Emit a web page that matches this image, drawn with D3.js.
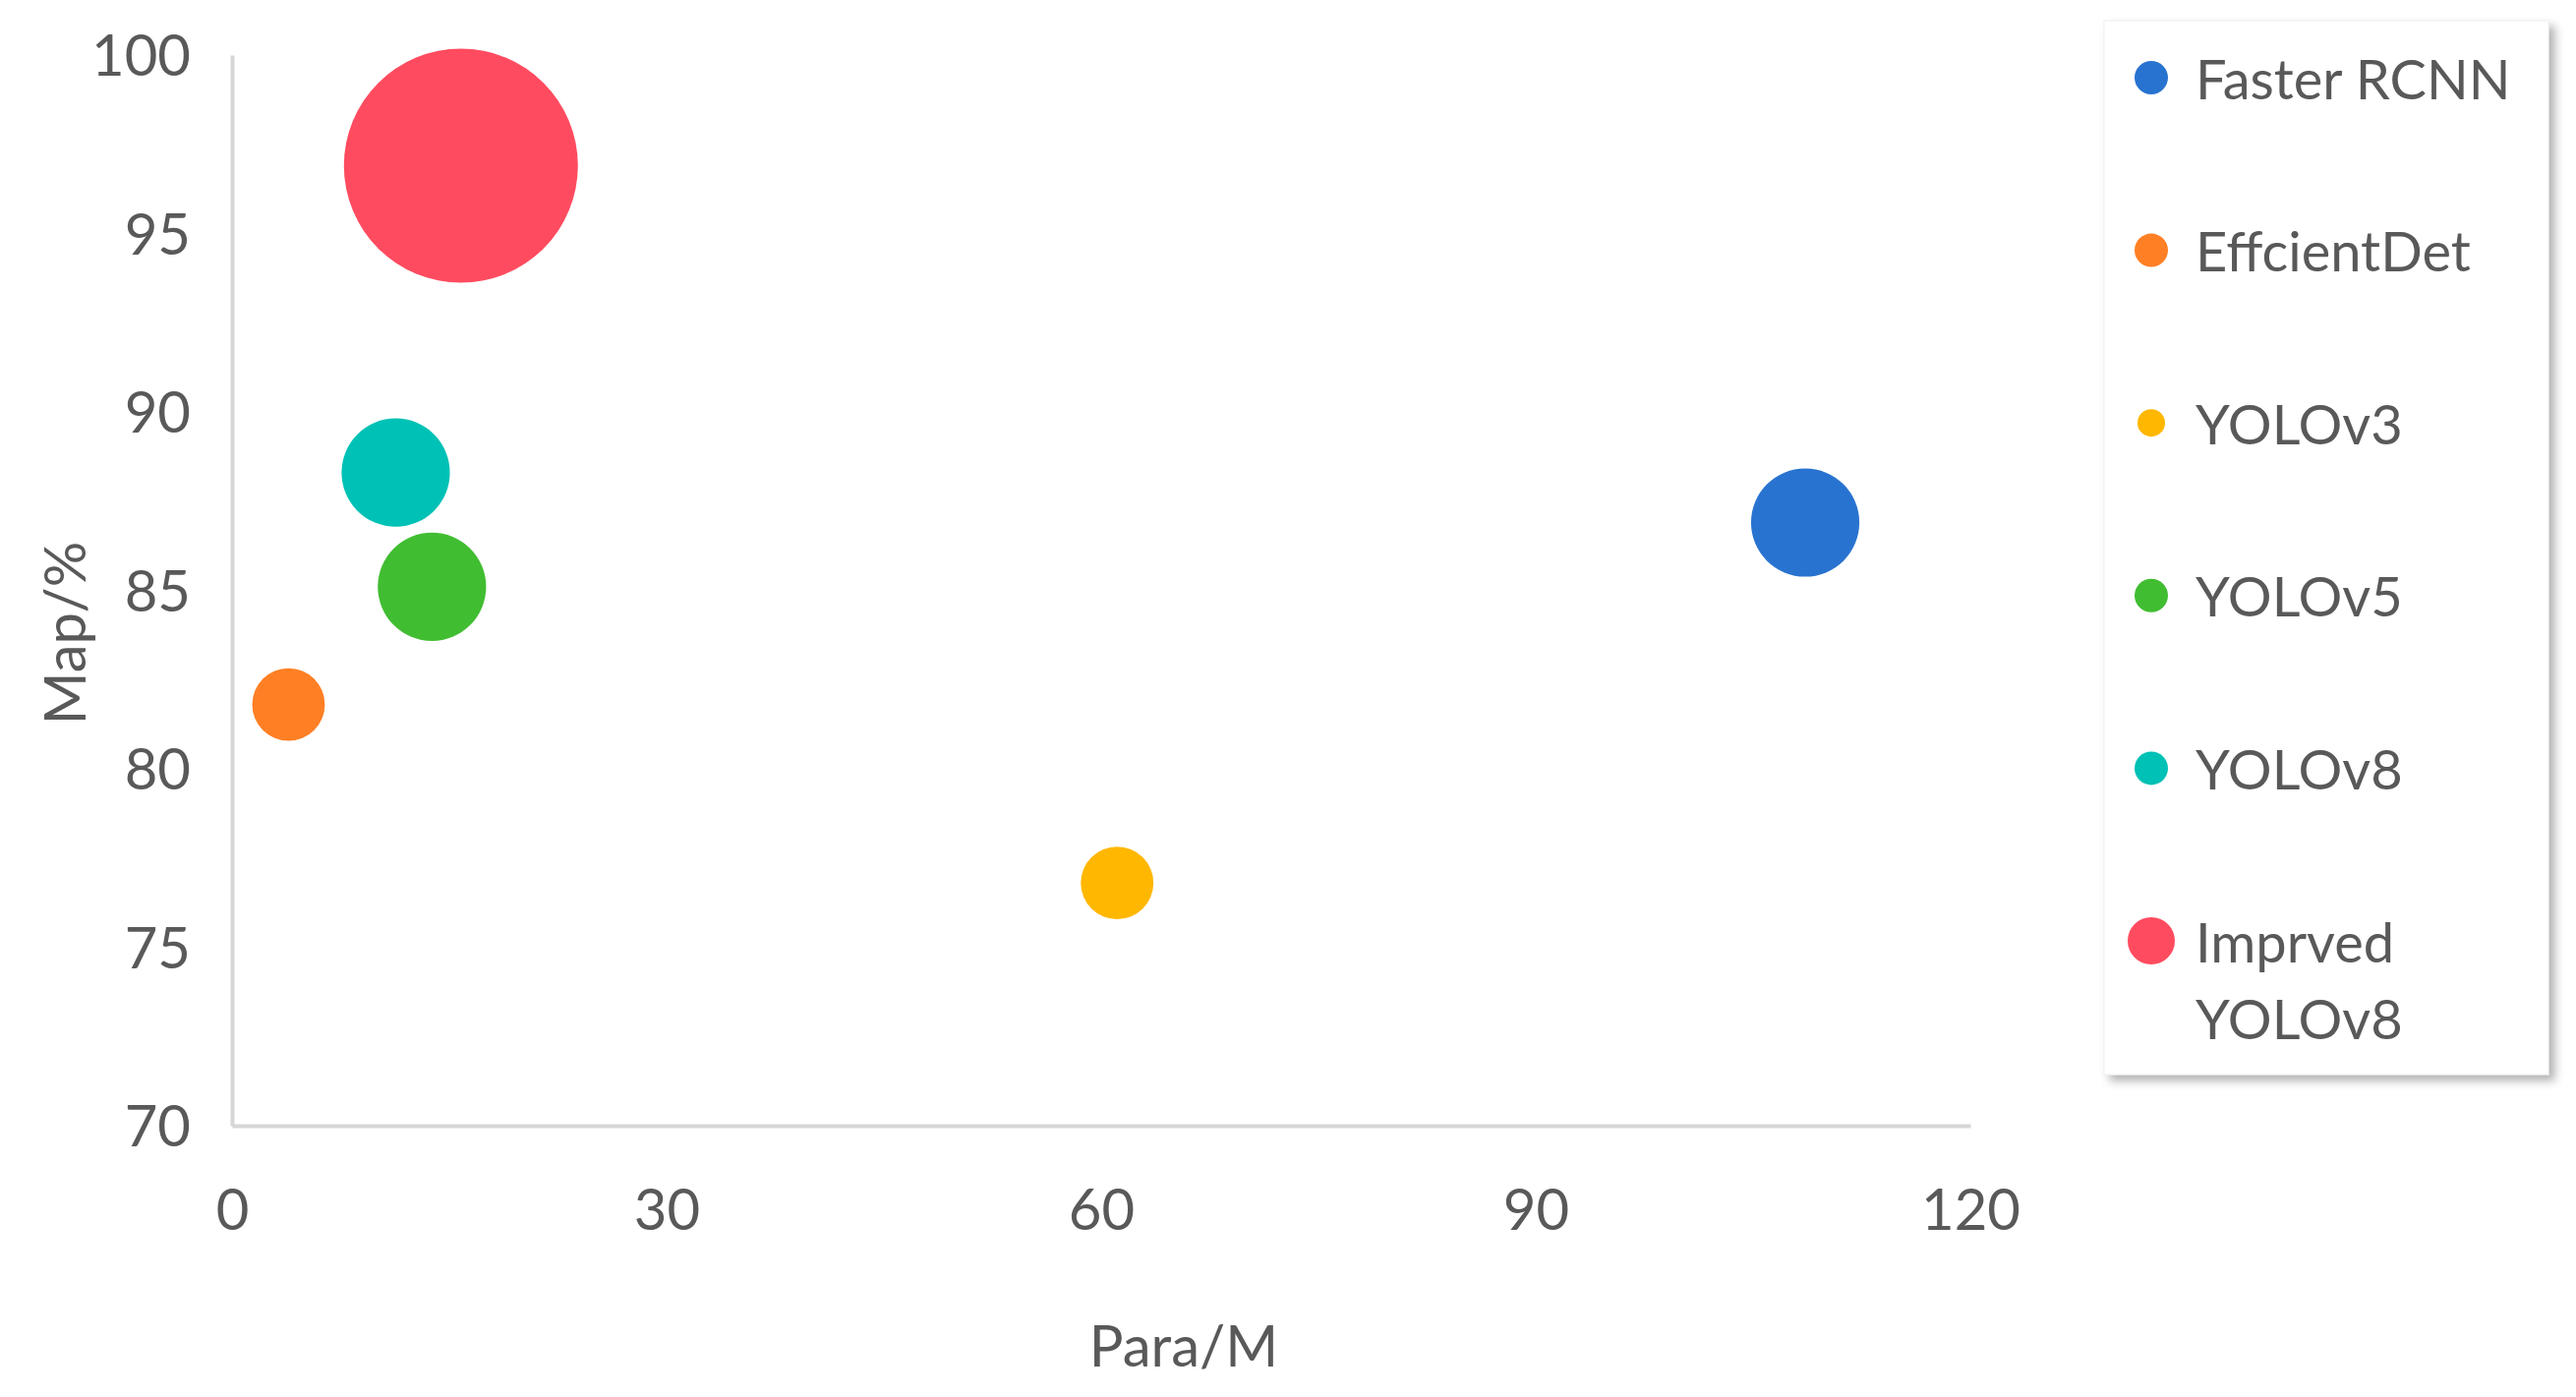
<!DOCTYPE html>
<html>
<head>
<meta charset="utf-8">
<script src="https://cdn.jsdelivr.net/npm/d3@7"></script>
<style>
  body { margin: 0; background: #fff; }
  svg text { font-family: Lato, "Open Sans", sans-serif; fill: #595959; }
</style>
</head>
<body>
<svg id="chart" width="2620" height="1421"></svg>
<script>
// Data
const models = ["Faster RCNN", "EffcientDet", "YOLOv3", "YOLOv5", "YOLOv8", "Imprved YOLOv8"];
const params = [108.6, 3.9, 61.1, 13.8, 11.3, 15.8];      // Para/M
const mapValues = [86.9, 81.8, 76.8, 85.1, 88.3, 96.9];   // Map/%
const bubbleSize = [30, 13.5, 13.5, 30, 30, 140];
const colors = ["#2873D0", "#FF7F24", "#FFB700", "#41BD32", "#00C1B5", "#FF4B5F"];
const xTicks = [0, 30, 60, 90, 120];
const yTicks = [70, 75, 80, 85, 90, 95, 100];

const data = models.map((m, i) => ({
    name: m, x: params[i], y: mapValues[i], size: bubbleSize[i], color: colors[i]
}));

const svg = d3.select("#chart");
const fontSize = 58;

// Scales
const x = d3.scaleLinear().domain([0, 120]).range([236, 2004]);
const y = d3.scaleLinear().domain([70, 100]).range([1145, 56]);
const r = d3.scaleSqrt().domain([0, d3.max(bubbleSize)]).range([0, 119]);

// Axes (Excel style: light lines, no tick marks)
const xAxis = svg.append("g")
    .attr("transform", `translate(0, ${y(70)})`)
    .call(d3.axisBottom(x).tickValues(xTicks).tickSize(0).tickPadding(83));
const yAxis = svg.append("g")
    .attr("transform", `translate(${x(0)}, 0)`)
    .call(d3.axisLeft(y).tickValues(yTicks).tickSize(0).tickPadding(42));

[xAxis, yAxis].forEach(ax => {
    ax.select(".domain").attr("stroke", "#d6d6d6").attr("stroke-width", 4);
    ax.selectAll("text")
        .attr("font-size", fontSize)
        .attr("font-family", "Lato, 'Open Sans', sans-serif")
        .attr("fill", "#595959")
        .attr("dy", null)
        .attr("dominant-baseline", "central");
});
yAxis.selectAll("text").attr("dy", -2);

// Axis titles
svg.append("text")
    .attr("x", 1204).attr("y", 1367)
    .attr("text-anchor", "middle")
    .attr("dominant-baseline", "central")
    .attr("font-size", fontSize)
    .text("Para/M");

svg.append("text")
    .attr("transform", "translate(64, 644) rotate(-90)")
    .attr("text-anchor", "middle")
    .attr("dominant-baseline", "central")
    .attr("font-size", fontSize)
    .text("Map/%");

// Bubbles
svg.append("g")
    .selectAll("circle")
    .data(data)
    .enter()
    .append("circle")
    .attr("cx", d => x(d.x))
    .attr("cy", d => y(d.y))
    .attr("r", d => r(d.size))
    .attr("fill", d => d.color);

// Legend with drop shadow
const defs = svg.append("defs");
const shadow = defs.append("filter").attr("id", "shadow")
    .attr("x", "-5%").attr("y", "-5%").attr("width", "115%").attr("height", "115%");
shadow.append("feDropShadow")
    .attr("dx", 6).attr("dy", 6).attr("stdDeviation", 5)
    .attr("flood-color", "#000").attr("flood-opacity", 0.3);

const legend = svg.append("g");
legend.append("rect")
    .attr("x", 2140).attr("y", 21)
    .attr("width", 452).attr("height", 1072)
    .attr("fill", "#fff")
    .attr("stroke", "#eeeeee")
    .attr("filter", "url(#shadow)");

const rowY = d3.scaleLinear().domain([0, 1]).range([79, 254.6]);
const maxSize = d3.max(bubbleSize);

const items = legend.selectAll(".item")
    .data(data)
    .enter()
    .append("g")
    .attr("class", "item")
    .attr("transform", (d, i) => `translate(0, ${rowY(i)})`);

items.append("circle")
    .attr("cx", 2188)
    .attr("cy", 0)
    .attr("r", d => d.size === maxSize ? 24 : (d.size < 20 && d.x > 30 ? 14 : 17))
    .attr("fill", d => d.color);

items.append("text")
    .attr("x", 2233)
    .attr("y", 0)
    .attr("dominant-baseline", "central")
    .attr("font-size", 56)
    .each(function(d) {
        const t = d3.select(this);
        t.text(d.name);
        if (this.getComputedTextLength() > 350) {
            const words = d.name.split(" ");
            t.text(null);
            words.forEach((w, k) => {
                t.append("tspan")
                    .attr("x", 2233)
                    .attr("dy", k === 0 ? 0 : 78)
                    .text(w);
            });
        }
    });
</script>
</body>
</html>
